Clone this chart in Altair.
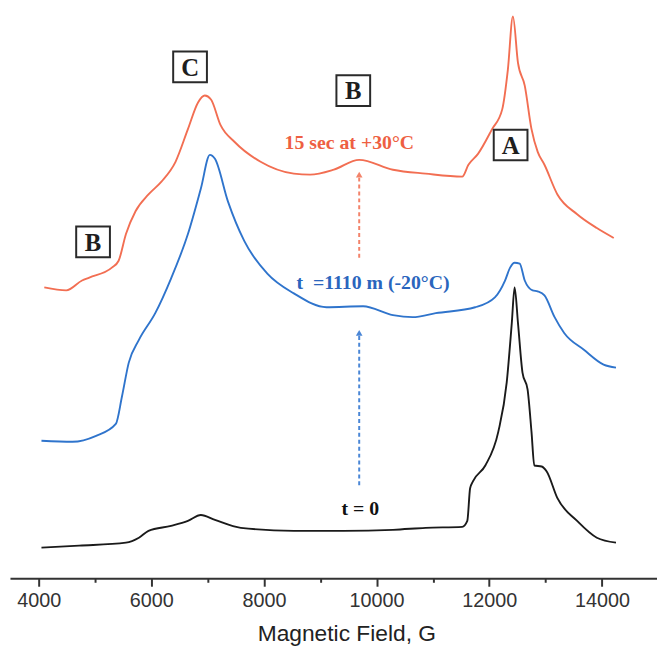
import altair as alt
import pandas as pd

# ---- data (field in G, intensity in arbitrary units) ----
black_g = [4050, 4720, 5550, 5780, 5950, 6350, 6650, 6880, 7130, 7590, 8530, 9410, 10290, 10870,
           11520, 11610, 11660, 11710, 11930, 12160, 12310, 12400, 12450, 12510, 12590, 12680,
           12750, 12800, 12930, 13020, 13210, 13560, 13910, 14250]
black_v = [35, 37, 40, 45, 52, 57, 62, 68, 63, 55, 52, 52, 53, 55,
           56, 62, 95, 102, 118, 152, 202, 262, 298, 262, 212, 195,
           152, 118, 117, 112, 85, 62, 45, 40]

blue_g = [4050, 4600, 5020, 5370, 5480, 5600, 5780, 6070, 6350, 6650, 6880, 7040, 7130, 7360,
          7650, 8060, 8530, 9110, 9760, 10290, 10640, 11050, 11750, 12100, 12280, 12370, 12450,
          12540, 12630, 12770, 12860, 12980, 13160, 13330, 13680, 14030, 14250]
blue_v = [143, 142, 148, 160, 188, 222, 245, 272, 307, 352, 398, 432, 428, 385,
          345, 312, 292, 278, 279, 270, 268, 272, 278, 288, 305, 318, 323,
          322, 305, 295, 294, 290, 268, 252, 235, 220, 217]

red_g = [4100, 4490, 4770, 4900, 5300, 5420, 5550, 5720, 5950, 6180, 6430, 6650, 6830, 6950,
         7060, 7230, 7480, 7940, 8530, 8820, 9240, 9690, 10290, 10870, 11520, 11630, 11800,
         12050, 12230, 12330, 12420, 12510, 12630, 12750, 12860, 12980, 13210, 13560, 13910, 14210]
red_v = [298, 295, 305, 308, 318, 325, 352, 375, 392, 405, 425, 458, 485, 492,
         488, 462, 445, 425, 413, 412, 417, 427, 417, 413, 410, 422, 433,
         458, 478, 518, 572, 525, 502, 458, 435, 422, 392, 372, 358, 348]

series_names = ["red", "blue", "black"]
series_colors = ["#F26E52", "#2F74CC", "#1a1a1a"]

tick_values = [4000, 5000, 6000, 7000, 8000, 9000, 10000, 11000, 12000, 13000, 14000, 15000]

# boxed letters
box_letters = ["C", "B", "B", "A"]
box_g = [6688, 4966, 9586, 12379]
box_v = [521, 344, 497, 442]

# text labels
label_texts = ["15 sec at +30°C", "t\u00a0 =1110 m (-20°C)", "t = 0"]
label_g = [9516, 9937, 9709]
label_v = [438, 296, 68]
label_colors = ["#EE5F42", "#2A65BD", "#111111"]

# dashed arrows
arrow_g = [9691, 9691]
arrow_from = [328, 98]
arrow_to = [412, 252]
arrow_colors = ["#F3836A", "#4A86D6"]

# ---- build tables ----
rows = []
for name, gs, vs in [("red", red_g, red_v), ("blue", blue_g, blue_v), ("black", black_g, black_v)]:
    for g, v in zip(gs, vs):
        rows.append({"series": name, "G": g, "v": v})
lines_df = pd.DataFrame(rows)
boxes_df = pd.DataFrame({"letter": box_letters, "G": box_g, "v": box_v})
labels_df = pd.DataFrame({"text": label_texts, "G": label_g, "v": label_v, "color": label_colors})
arrows_df = pd.DataFrame({"G": arrow_g, "v0": arrow_from, "v1": arrow_to, "color": arrow_colors})

xscale = alt.Scale(domain=[3491, 14978], nice=False, zero=False)
yscale = alt.Scale(domain=[4, 577], nice=False, zero=False)

x_axis = alt.Axis(
    values=tick_values,
    labelExpr="datum.value % 2000 === 0 ? format(datum.value, 'd') : ''",
    title="Magnetic Field, G",
    titleFont="Liberation Sans", titleFontSize=23, titleFontWeight="normal", titleColor="#222222",
    titleX=340, titleY=63, titleBaseline="alphabetic",
    labelFont="Liberation Sans", labelFontSize=20, labelColor="#333333", labelPadding=4,
    domainColor="#333333", domainWidth=2,
    tickColor="#333333", tickWidth=2,
    tickSize={"condition": {"test": "datum.value % 2000 === 0", "value": 8}, "value": 4},
    grid=False, labelFlush=False, labelOverlap=False,
)


def X(field="G"):
    return alt.X(f"{field}:Q", scale=xscale, axis=x_axis, title="Magnetic Field, G")


def Y(field="v"):
    return alt.Y(f"{field}:Q", scale=yscale, axis=None)


lines = alt.Chart(lines_df).mark_line(strokeWidth=1.9, interpolate="monotone").encode(
    x=X(),
    y=Y(),
    color=alt.Color("series:N", scale=alt.Scale(domain=series_names, range=series_colors), legend=None),
    detail="series:N",
)

arrow_shafts = alt.Chart(arrows_df).mark_rule(strokeWidth=2, strokeDash=[4, 3]).encode(
    x=X(),
    y=Y("v0"),
    y2="v1:Q",
    color=alt.Color("color:N", scale=None),
)
arrow_heads = alt.Chart(arrows_df).mark_point(shape="triangle-up", filled=True, size=45, opacity=1).encode(
    x=X(),
    y=Y("v1"),
    color=alt.Color("color:N", scale=None),
)

boxes = alt.Chart(boxes_df).mark_point(
    shape="M-1.1,-1H1.1V1H-1.1Z", size=961, fill="white", fillOpacity=1,
    stroke="#2a2a2a", strokeWidth=2, opacity=1,
).encode(
    x=X(),
    y=Y(),
)
box_text = alt.Chart(boxes_df).mark_text(
    font="Liberation Serif", fontWeight="bold", fontSize=25, color="#1e1e1e",
    baseline="middle", align="center", dy=1,
).encode(
    x=X(),
    y=Y(),
    text="letter:N",
)

labels = alt.Chart(labels_df).mark_text(
    font="Liberation Serif", fontWeight="bold", fontSize=20, baseline="alphabetic", align="center",
).encode(
    x=X(),
    y=Y(),
    text="text:N",
    color=alt.Color("color:N", scale=None),
)

chart = alt.layer(lines, arrow_shafts, arrow_heads, boxes, box_text, labels).properties(
    width=654, height=573, background="white",
    padding={"left": 2, "top": 0, "right": 0, "bottom": 0},
).configure_view(strokeWidth=0).configure_axis(grid=False)

chart.save("out.html", embed_options={"renderer": "svg", "actions": False})
